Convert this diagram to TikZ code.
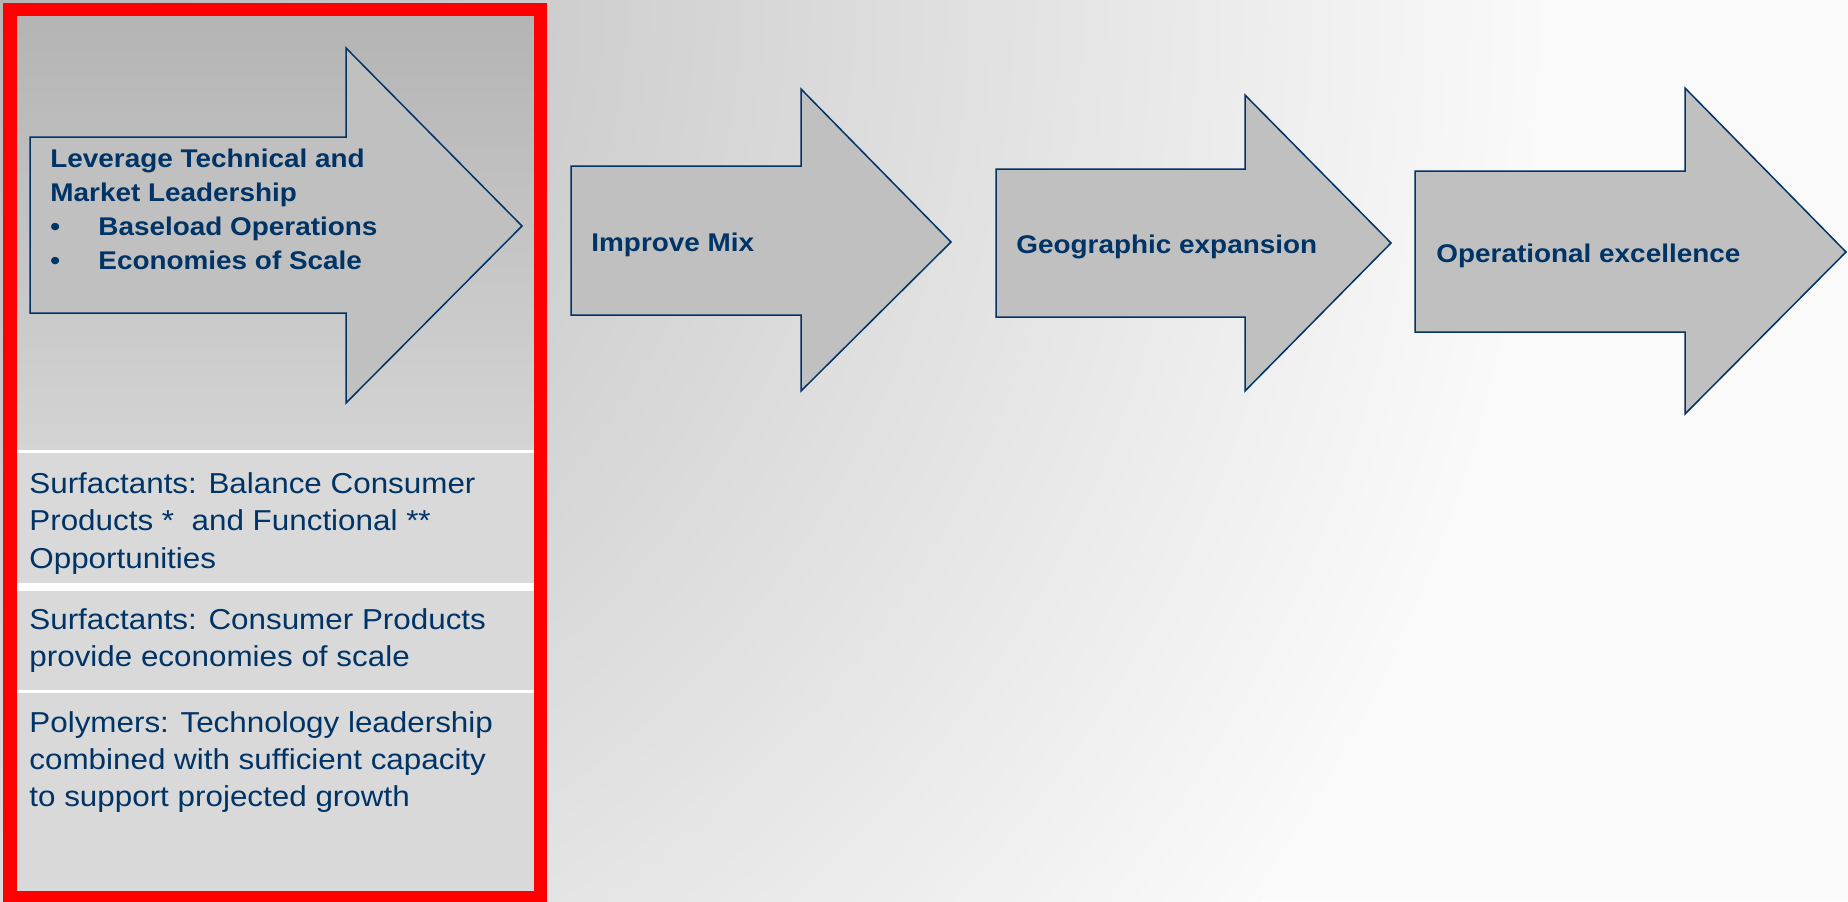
\documentclass[tikz,border=0pt]{standalone}
\usepackage{fontspec}
\setmainfont{Liberation Sans}[FakeStretch=1.09]
\usepackage{xcolor}
\usepackage{tikz}
\usetikzlibrary{positioning}

\definecolor{navy}{RGB}{0,51,102}
\definecolor{arrowgray}{RGB}{192,192,192}
\definecolor{bgdark}{RGB}{182,182,182}
\definecolor{bglight}{RGB}{250,250,250}
\definecolor{paneltop}{RGB}{180,180,180}
\definecolor{panelbot}{RGB}{212,212,212}
\definecolor{panelrow}{RGB}{217,217,217}

\begin{document}
\begin{tikzpicture}[x=0.5pt,y=-0.5pt]
	\begin{scope}

\tikzset{bigarrow/.style={draw=navy,fill=arrowgray,line width=0.75pt,line join=miter}}
\tikzset{arrowtext/.style={anchor=west,inner sep=0pt,text=navy,align=left,font=\fontsize{12.8}{17}\selectfont\bfseries}}
\tikzset{rowtext/.style={anchor=west,inner sep=0pt,text=navy,align=left,font=\fontsize{14.4}{18.7}\selectfont}}

\useasboundingbox (0,0) rectangle (1848,901);

% background
\begin{scope}
\clip (0,0) rectangle (1848,901);
\fill[bglight] (0,0) rectangle (1848,901);
\shade[inner color=bgdark,outer color=bglight] (0,0) circle (1550);
\end{scope}

% the left panel
\shade[top color=paneltop,bottom color=panelbot] (17,16) rectangle (534,451);
\fill[panelrow] (17,451) rectangle (534,892);
\draw[white,line width=1.5pt] (17,451) -- (534,451);
\draw[white,line width=4pt] (17,587) -- (534,587);
\draw[white,line width=1.5pt] (17,691) -- (534,691);

% the arrows
\foreach \l/\t/\b/\h/\ht/\hb/\px/\py in {30/137/313/346/48/403/522/226,
	571/166/315/801/89/391/951/242,
	996/169/317/1245/95/391/1391/243,
	1415/171/332/1685/88/414/1846/252}
{
\draw[bigarrow] (\l,\t) -- (\h,\t) -- (\h,\ht) -- (\px,\py) -- (\h,\hb) -- (\h,\b) -- (\l,\b) -- cycle;
}

\node(lev)[arrowtext] at (50,209){Leverage Technical and\\Market Leadership\\
	\makebox[24pt][l]{\textbullet}Baseload Operations\\
	\makebox[24pt][l]{\textbullet}Economies of Scale};
\node(mix)[arrowtext] at (591,244.5){Improve Mix};
\node(geo)[arrowtext] at (1016,246.5){Geographic expansion};
\node(ops)[arrowtext] at (1436,255.5){Operational excellence};

% rows under the first arrow
\node(surfa)[rowtext] at (29,523.5){Surfactants: Balance Consumer\\Products *~ and Functional **\\Opportunities};
\node(surfb)[rowtext] at (29,640.5){Surfactants: Consumer Products\\provide economies of scale};
\node(poly)[rowtext] at (29,762){Polymers: Technology leadership\\combined with sufficient capacity\\to support projected growth};

% red frame
\draw[red,line width=6.7pt] (10,9.5) rectangle (540.5,898);

	\end{scope}
\end{tikzpicture}
\end{document}
